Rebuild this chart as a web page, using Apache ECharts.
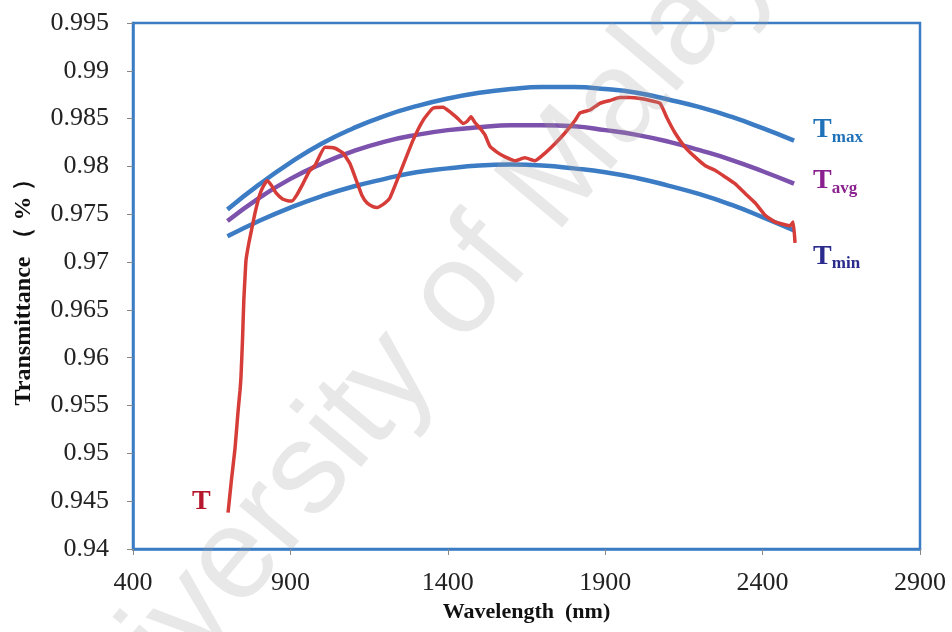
<!DOCTYPE html>
<html>
<head>
<meta charset="utf-8">
<script src="https://cdn.jsdelivr.net/npm/echarts@6/dist/echarts.min.js"></script>
<style>html,body{margin:0;padding:0;background:#fff}#c{width:952px;height:632px}</style>
</head>
<body>
<div id="c"></div>
<script>
// ---- data ----
const redX = [702,712,724,734,740,743,748,752,756,759,768,778,788,803,815,826,840,855,875,895,905,920,940,960,978,1010,1042,1067,1089,1112,1127,1143,1162,1175,1201,1216,1248,1289,1321,1353,1385,1407,1432,1448,1461,1474,1486,1502,1518,1534,1556,1582,1613,1645,1677,1709,1741,1772,1804,1820,1852,1883,1915,1947,1979,2011,2042,2074,2096,2122,2154,2185,2217,2249,2281,2312,2344,2376,2408,2439,2471,2487,2497,2503];
const redY = [0.9438,0.9470,0.9505,0.9545,0.9566,0.9580,0.9620,0.9660,0.9685,0.9702,0.9720,0.9736,0.9752,0.9771,0.9780,0.9785,0.9780,0.9772,0.9766,0.9764,0.9764,0.9770,0.9782,0.9795,0.9801,0.9820,0.9819,0.9814,0.9803,0.9783,0.9770,0.9762,0.9758,0.9757,0.9762,0.9767,0.9793,0.9827,0.9848,0.9861,0.9862,0.9857,0.9850,0.9845,0.9847,0.9852,0.9846,0.9840,0.9833,0.9821,0.9815,0.9810,0.9806,0.9809,0.9806,0.9814,0.9824,0.9835,0.9848,0.9856,0.9859,0.9866,0.9869,0.9872,0.9872,0.9871,0.9869,0.9866,0.9851,0.9835,0.9820,0.9810,0.9801,0.9796,0.9789,0.9782,0.9772,0.9762,0.9749,0.9742,0.9739,0.9738,0.9742,0.9720];
const envX = [700,800,900,1000,1100,1200,1300,1400,1500,1600,1700,1800,1900,2000,2100,2200,2300,2400,2500];
const tMax = [0.9755,0.9781,0.9804,0.9824,0.9840,0.9853,0.9863,0.9871,0.9877,0.9881,0.9883,0.9883,0.9881,0.9877,0.9870,0.9862,0.9852,0.9840,0.9827];
const tAvg = [0.9743,0.9767,0.9787,0.9803,0.9816,0.9826,0.9833,0.9838,0.9841,0.9843,0.9843,0.9842,0.9838,0.9833,0.9826,0.9817,0.9807,0.9795,0.9782];
const tMin = [0.9727,0.9743,0.9757,0.9769,0.9779,0.9787,0.9794,0.9798,0.9801,0.9802,0.9801,0.9798,0.9794,0.9788,0.9780,0.9771,0.9760,0.9747,0.9733];
const xTicks = [400,900,1400,1900,2400,2900];
const yTicks = [0.94,0.945,0.95,0.955,0.96,0.965,0.97,0.975,0.98,0.985,0.99,0.995];
const xTitle = 'Wavelength  (nm)';
const yTitle = 'Transmittance （ % ）';

const serif = '"Liberation Serif","DejaVu Serif",serif';
const BLUE = '#3b7cc4', PURPLE = '#7d52ad', RED = '#d63c38';

function pairs(xs, ys){ return xs.map((x,i)=>[x, ys[i]]); }
function subLabel(sub, color, dy){
  return {
    show: true, distance: 19, offset: [0, dy],
    formatter: '{a|T}{b|' + sub + '}',
    rich: {
      a: {fontFamily: serif, fontWeight: 'bold', fontSize: 28, color: color, lineHeight: 30, padding: [0,0,12,0], verticalAlign: 'top'},
      b: {fontFamily: serif, fontWeight: 'bold', fontSize: 17, color: color, lineHeight: 18, verticalAlign: 'bottom'}
    }
  };
}

const chart = echarts.init(document.getElementById('c'), null, {renderer: 'canvas'});
chart.setOption({
  animation: false,
  backgroundColor: '#fff',
  grid: {left: 133, right: 32, top: 23, bottom: 83, show: true, borderColor: BLUE, borderWidth: 2.5, backgroundColor: 'transparent'},
  xAxis: {
    type: 'value', min: xTicks[0], max: xTicks[xTicks.length-1], interval: 500,
    name: xTitle, nameLocation: 'middle', nameGap: 52,
    nameTextStyle: {fontFamily: serif, fontWeight: 'bold', fontSize: 22, color: '#111'},
    axisLine: {show: true, lineStyle: {color: BLUE, width: 2.5}},
    axisTick: {show: true, inside: false, length: 6, lineStyle: {color: '#888', width: 1}},
    axisLabel: {fontFamily: serif, fontSize: 26, color: '#222', margin: 21, formatter: v => String(v)},
    splitLine: {show: false}
  },
  yAxis: {
    type: 'value', min: yTicks[0], max: yTicks[yTicks.length-1], interval: 0.005,
    name: yTitle, nameLocation: 'middle', nameGap: 97,
    nameTextStyle: {fontFamily: serif, fontWeight: 'bold', fontSize: 24, color: '#111'},
    axisLine: {show: true, lineStyle: {color: BLUE, width: 2.5}},
    axisTick: {show: true, inside: false, length: 6, lineStyle: {color: '#888', width: 1}},
    axisLabel: {fontFamily: serif, fontSize: 26, color: '#222', margin: 24,
      formatter: v => String(parseFloat(v.toFixed(3)))},
    splitLine: {show: false}
  },
  series: [
    {type: 'line', data: pairs(envX, tMin), smooth: true, symbol: 'none', lineStyle: {color: BLUE, width: 4.5},
      endLabel: subLabel('min', '#2a2b8c', 27), z: 2},
    {type: 'line', data: pairs(envX, tAvg), smooth: true, symbol: 'none', lineStyle: {color: PURPLE, width: 4.5},
      endLabel: subLabel('avg', '#8a1f8e', -2), z: 2},
    {type: 'line', data: pairs(envX, tMax), smooth: true, symbol: 'none', lineStyle: {color: BLUE, width: 4.5},
      endLabel: subLabel('max', '#1f72b8', -10), z: 2},
    {type: 'line', data: pairs(redX, redY), smooth: 0.15, symbol: 'none', lineStyle: {color: RED, width: 3.5}, z: 3,
      markPoint: {
        symbol: 'circle', symbolSize: 1, itemStyle: {color: 'transparent'},
        data: [{coord: [redX[0], redY[0]]}],
        label: {show: true, position: 'left', distance: 17, offset: [0, -11], formatter: 'T',
          fontFamily: serif, fontWeight: 'bold', fontSize: 28, color: '#b5182c'}
      }}
  ],
  graphic: [{
    type: 'text', left: -5, top: -150, rotation: Math.PI * 50 / 180, z: 100, silent: true,
    style: {text: 'University of Malaya', font: '130px "Liberation Sans", Arial, sans-serif', fill: 'rgba(160,160,160,0.24)'}
  }]
});
</script>
</body>
</html>
